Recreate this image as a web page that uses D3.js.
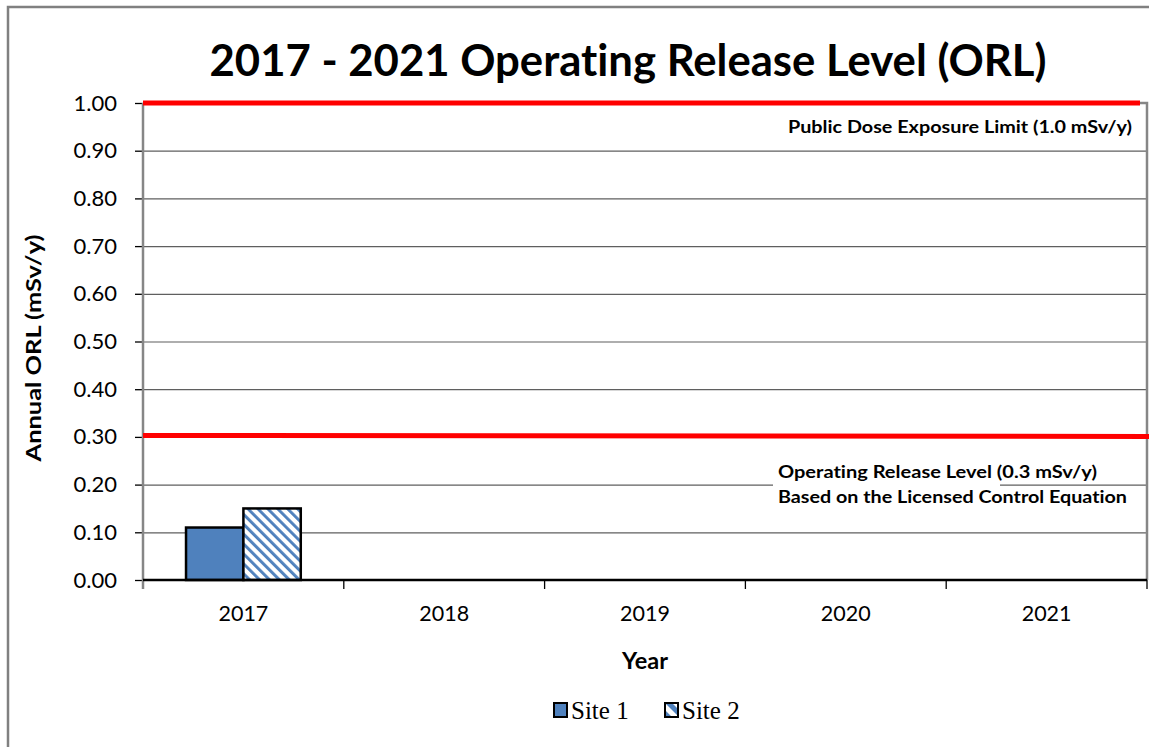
<!DOCTYPE html>
<html>
<head>
<meta charset="utf-8">
<script src="https://cdn.jsdelivr.net/npm/d3@7"></script>
<style>
  html, body { margin: 0; padding: 0; background: #fff; }
  svg { display: block; }
  text { font-variant-ligatures: none; }
</style>
</head>
<body>
<svg id="chart" width="1149" height="747"></svg>
<script>
// Chart data
const years = ["2017", "2018", "2019", "2020", "2021"];
const seriesNames = ["Site 1", "Site 2"];
const site1 = [0.11, null, null, null, null];
const site2 = [0.15, null, null, null, null];
const yTicks = [0, 0.1, 0.2, 0.3, 0.4, 0.5, 0.6, 0.7, 0.8, 0.9, 1.0];
const limitValue = 1.0;   // public dose exposure limit
const orlValue = 0.3;     // operating release level
const limitLabel = "Public Dose Exposure Limit (1.0 mSv/y)";
const orlLabel1 = "Operating Release Level (0.3 mSv/y)";
const orlLabel2 = "Based on the Licensed Control Equation";

const W = 1149, H = 747;
const plot = { left: 143, right: 1147, top: 103, bottom: 580 };
const sans = "Lato, 'Open Sans', sans-serif";
const blue = "#4F81BD";

const svg = d3.select("#chart");
svg.append("rect").attr("width", W).attr("height", H).attr("fill", "#fff");

// Hatched fills for the second site (bar and legend swatch)
const defs = svg.append("defs");
const hatch = defs.append("pattern")
  .attr("id", "hatch")
  .attr("patternUnits", "userSpaceOnUse")
  .attr("width", 7).attr("height", 7)
  .attr("patternTransform", "rotate(-45)");
hatch.append("rect").attr("width", 7).attr("height", 7).attr("fill", "#fff");
hatch.append("rect").attr("width", 2.9).attr("height", 7).attr("fill", blue);

const hatchBig = defs.append("pattern")
  .attr("id", "hatchBig")
  .attr("patternUnits", "userSpaceOnUse")
  .attr("width", 10).attr("height", 10)
  .attr("patternTransform", "rotate(-45)");
hatchBig.append("rect").attr("width", 10).attr("height", 10).attr("fill", "#fff");
hatchBig.append("rect").attr("width", 5).attr("height", 10).attr("fill", blue);

// Outer chart frame
svg.append("rect")
  .attr("x", 8).attr("y", 7)
  .attr("width", W + 20).attr("height", H + 20)
  .attr("fill", "none").attr("stroke", "#808080").attr("stroke-width", 2.5);

// Scales
const y = d3.scaleLinear().domain([0, 1]).range([plot.bottom, plot.top]);
const x = d3.scaleBand().domain(years).range([plot.left, plot.right]).padding(0);
const x1 = d3.scaleBand().domain(seriesNames).range([0, x.bandwidth()])
  .paddingInner(0).paddingOuter(0.75);

// Horizontal gridlines
svg.append("g")
  .attr("transform", `translate(${plot.left},0)`)
  .call(d3.axisLeft(y).tickValues(yTicks.slice(1)).tickSize(-(plot.right - plot.left)).tickFormat(""))
  .call(g => g.select(".domain").remove())
  .call(g => g.selectAll("line").attr("stroke", "#5f5f5f").attr("stroke-width", 1.2));

// Plot area border (top and right)
svg.append("path")
  .attr("d", `M${plot.left},${plot.top}H${plot.right}V${plot.bottom}`)
  .attr("fill", "none").attr("stroke", "#868686").attr("stroke-width", 2.5);

// Bars
const rows = years.map((yr, i) => ({ year: yr, values: [site1[i], site2[i]] }));
const groups = svg.append("g").selectAll("g").data(rows).join("g")
  .attr("transform", d => `translate(${x(d.year)},0)`);
groups.selectAll("rect")
  .data(d => d.values.map((v, j) => ({ key: seriesNames[j], v })).filter(d => d.v != null))
  .join("rect")
  .attr("x", d => x1(d.key))
  .attr("width", x1.bandwidth())
  .attr("y", d => y(d.v))
  .attr("height", d => y(0) - y(d.v))
  .attr("fill", d => d.key === "Site 1" ? blue : "url(#hatch)")
  .attr("stroke", "#000").attr("stroke-width", 2.5);

// Y axis
const yAxis = svg.append("g")
  .attr("transform", `translate(${plot.left},0)`)
  .call(d3.axisLeft(y).tickValues(yTicks).tickFormat(d3.format(".2f")).tickSize(8).tickPadding(18));
yAxis.select(".domain").remove();
yAxis.selectAll("line").attr("stroke", "#000").attr("stroke-width", 1.3);
yAxis.selectAll("text").attr("font-family", sans).attr("font-size", 22).attr("fill", "#000");
svg.append("line")
  .attr("x1", plot.left).attr("x2", plot.left)
  .attr("y1", plot.top).attr("y2", plot.bottom + 9)
  .attr("stroke", "#868686").attr("stroke-width", 2.5);

// X axis: labels centred in categories, ticks on category boundaries
const xAxis = svg.append("g")
  .attr("transform", `translate(0,${plot.bottom})`)
  .call(d3.axisBottom(x).tickSize(0).tickPadding(26));
xAxis.select(".domain").remove();
xAxis.selectAll("text").attr("font-family", sans).attr("font-size", 21.5).attr("fill", "#000");
const bounds = years.map(d => x(d)).concat([x(years[years.length - 1]) + x.bandwidth()]);
svg.append("g").selectAll("line").data(bounds.slice(1)).join("line")
  .attr("x1", d => d).attr("x2", d => d)
  .attr("y1", plot.bottom).attr("y2", plot.bottom + 9)
  .attr("stroke", "#000").attr("stroke-width", 1.3);
svg.append("line")
  .attr("x1", plot.left).attr("x2", plot.right)
  .attr("y1", plot.bottom).attr("y2", plot.bottom)
  .attr("stroke", "#000").attr("stroke-width", 2.5);

// Reference lines
svg.append("line")
  .attr("x1", plot.left).attr("x2", 1140)
  .attr("y1", y(limitValue)).attr("y2", y(limitValue))
  .attr("stroke", "#ff0000").attr("stroke-width", 5);
svg.append("line")
  .attr("x1", plot.left).attr("x2", W)
  .attr("y1", y(orlValue) - 1.5).attr("y2", y(orlValue) - 0.5)
  .attr("stroke", "#ff0000").attr("stroke-width", 5);

// Reference line labels
const labelFont = 16.5;
svg.append("text")
  .attr("x", 788).attr("y", 133)
  .attr("font-family", sans).attr("font-weight", "bold").attr("font-size", labelFont)
  .attr("textLength", 344).attr("lengthAdjust", "spacingAndGlyphs")
  .text(limitLabel);
svg.append("rect")
  .attr("x", 773).attr("y", 458).attr("width", 227).attr("height", 29).attr("fill", "#fff");
svg.append("text")
  .attr("x", 778).attr("y", 478)
  .attr("font-family", sans).attr("font-weight", "bold").attr("font-size", labelFont)
  .attr("textLength", 319).attr("lengthAdjust", "spacingAndGlyphs")
  .text(orlLabel1);
svg.append("text")
  .attr("x", 778).attr("y", 503)
  .attr("font-family", sans).attr("font-weight", "bold").attr("font-size", labelFont)
  .attr("textLength", 349).attr("lengthAdjust", "spacingAndGlyphs")
  .text(orlLabel2);

// Title
svg.append("text")
  .attr("x", 628).attr("y", 76)
  .attr("text-anchor", "middle")
  .attr("font-family", sans).attr("font-weight", "bold").attr("font-size", 43)
  .attr("textLength", 837).attr("lengthAdjust", "spacingAndGlyphs")
  .text("2017 - 2021 Operating Release Level (ORL)");

// Axis titles
svg.append("text")
  .attr("transform", "translate(41,348) rotate(-90)")
  .attr("text-anchor", "middle")
  .attr("font-family", sans).attr("font-weight", "bold").attr("font-size", 20.5)
  .attr("textLength", 227).attr("lengthAdjust", "spacingAndGlyphs")
  .text("Annual ORL (mSv/y)");
svg.append("text")
  .attr("x", 645).attr("y", 669)
  .attr("text-anchor", "middle")
  .attr("font-family", sans).attr("font-weight", "bold").attr("font-size", 23.5)
  .text("Year");

// Legend
const legendItems = [
  { name: seriesNames[0], fill: blue, x: 554 },
  { name: seriesNames[1], fill: "url(#hatchBig)", x: 665 }
];
const lg = svg.append("g").selectAll("g").data(legendItems).join("g")
  .attr("transform", d => `translate(${d.x},703)`);
lg.append("rect")
  .attr("width", 13).attr("height", 14)
  .attr("fill", d => d.fill).attr("stroke", "#000").attr("stroke-width", 2);
lg.append("text")
  .attr("x", 17).attr("y", 15.5)
  .attr("font-family", "'Liberation Serif', 'Times New Roman', serif").attr("font-size", 25)
  .text(d => d.name);
</script>
</body>
</html>
